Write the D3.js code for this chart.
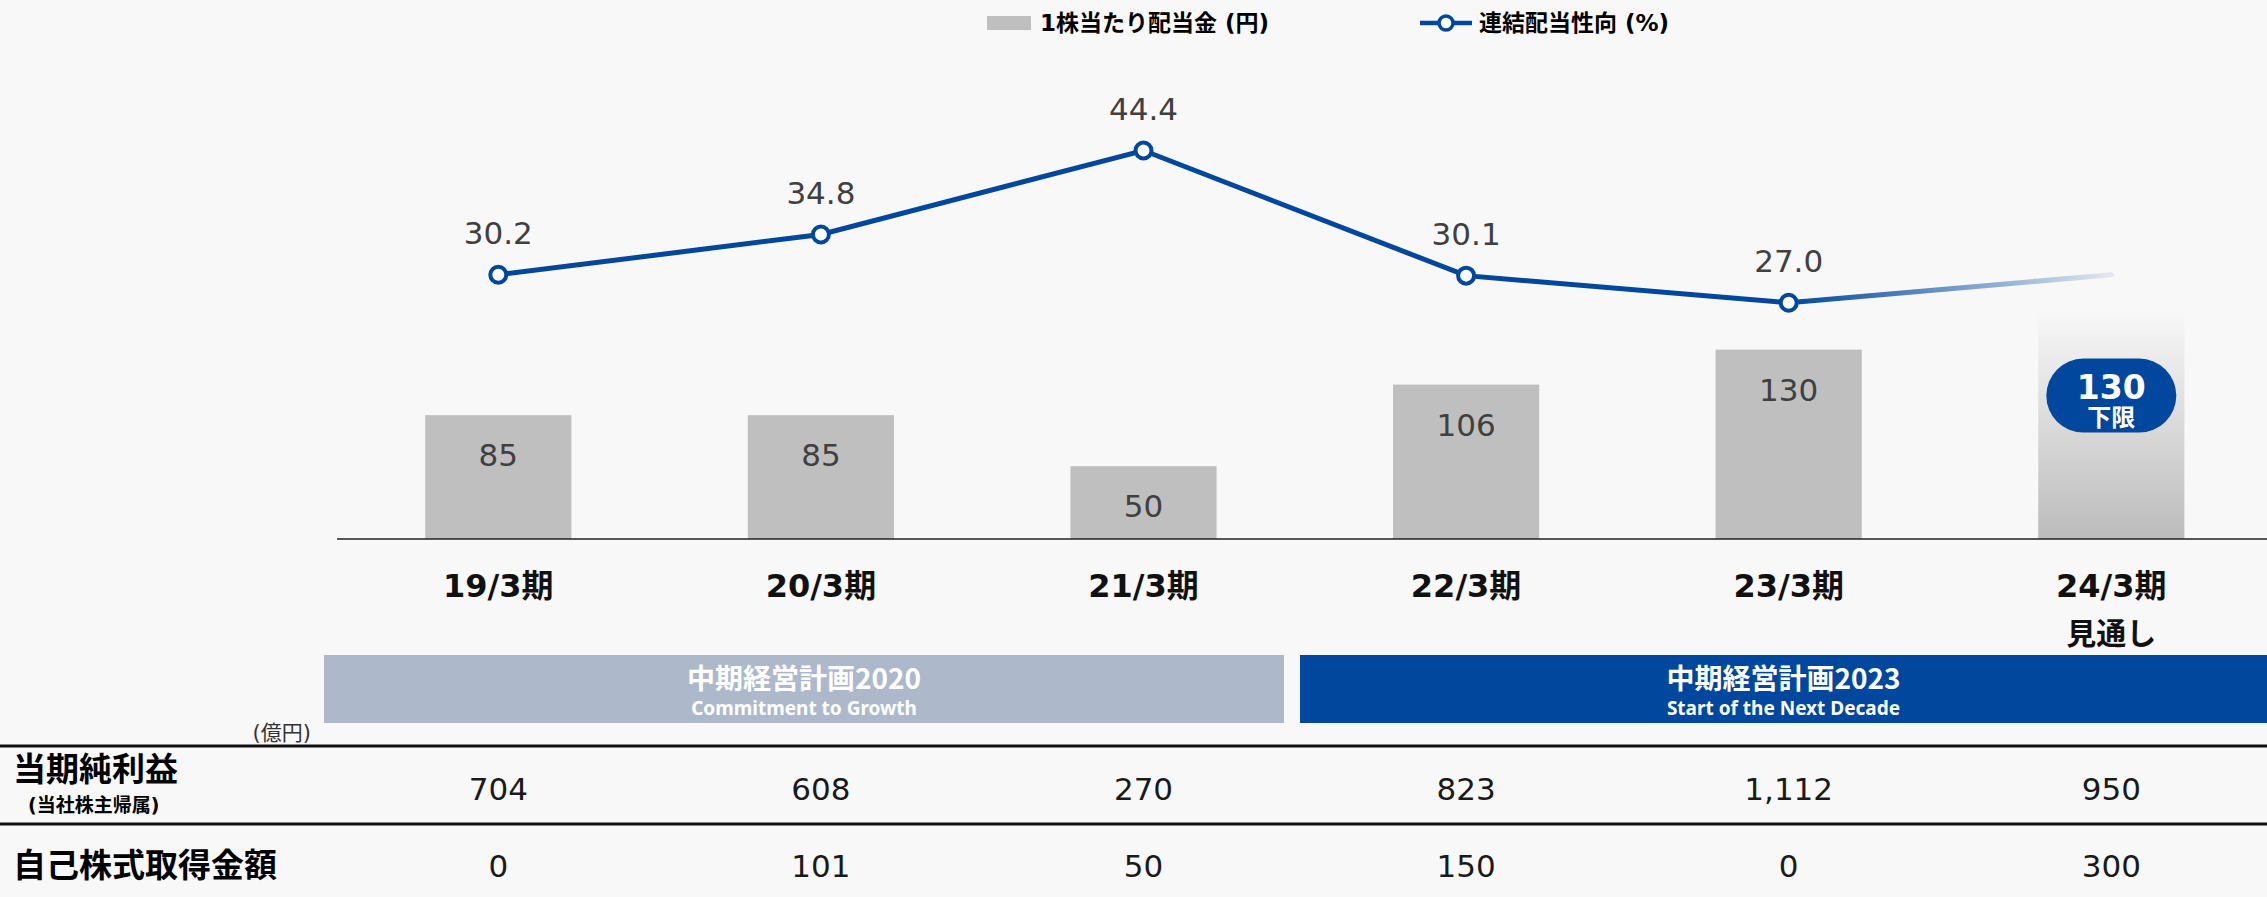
<!DOCTYPE html>
<html>
<head>
<meta charset="utf-8">
<script src="https://cdn.jsdelivr.net/npm/d3@7"></script>
<style>
  body { margin: 0; background: #f8f8f8; }
  svg { display: block; font-family: "DejaVu Sans", "Noto Sans CJK JP", sans-serif; }
</style>
</head>
<body>
<svg class="chart-svg"></svg>
<script>
// data
const periods = ["19/3期", "20/3期", "21/3期", "22/3期", "23/3期", "24/3期"];
const periodNotes = ["", "", "", "", "", "見通し"];
const dividends = [85, 85, 50, 106, 130, null];
const forecastDividend = 130; // 下限
const forecastBarTop = 157;
const payoutRatio = [30.2, 34.8, 44.4, 30.1, 27.0];
const forecastPayout = 30.2;
const netIncome = ["704", "608", "270", "823", "1,112", "950"];
const buyback = ["0", "101", "50", "150", "0", "300"];
const plans = [
  { name: "中期経営計画2020", sub: "Commitment to Growth" },
  { name: "中期経営計画2023", sub: "Start of the Next Decade" }
];

const width = 2267;
const height = 897;
const baseY = 539;
const blue = "#00479d";

const svg = d3.select(".chart-svg").attr("width", width).attr("height", height);
svg.append("rect").attr("width", width).attr("height", height).attr("fill", "#f8f8f8");

const xScale = d3
  .scaleBand()
  .domain(periods)
  .range([337, 337 + 6 * 322.6])
  .paddingInner(0.547)
  .paddingOuter(0.2735);
const cx = (p) => xScale(p) + xScale.bandwidth() / 2;
const yBar = d3.scaleLinear().domain([0, 370]).range([baseY, 0]);
const yLine = d3.scaleLinear().domain([0, 61.6]).range([baseY, 0]);

const defs = svg.append("defs");
const fadeBar = defs.append("linearGradient").attr("id", "fadeBar")
  .attr("x1", 0).attr("y1", 0).attr("x2", 0).attr("y2", 1);
fadeBar.append("stop").attr("offset", "0%").attr("stop-color", "#f8f8f8");
fadeBar.append("stop").attr("offset", "100%").attr("stop-color", "#bcbcbc");

// bars
const barGroups = svg.append("g").selectAll("g").data(periods).enter().append("g");
barGroups
  .filter((d, i) => dividends[i] != null)
  .append("rect")
  .attr("x", (d) => xScale(d))
  .attr("y", (d) => yBar(dividends[periods.indexOf(d)]))
  .attr("width", xScale.bandwidth())
  .attr("height", (d) => baseY - yBar(dividends[periods.indexOf(d)]))
  .attr("fill", "#bfbfbf");

barGroups
  .filter((d, i) => dividends[i] != null)
  .append("text")
  .attr("x", (d) => cx(d))
  .attr("y", (d) => yBar(dividends[periods.indexOf(d)]) + 51)
  .attr("text-anchor", "middle")
  .attr("fill", "#404040")
  .style("font-size", "31px")
  .text((d) => dividends[periods.indexOf(d)]);

// forecast bar (gradient) + badge
const last = periods[periods.length - 1];
svg.append("rect")
  .attr("x", xScale(last))
  .attr("y", yBar(forecastBarTop))
  .attr("width", xScale.bandwidth())
  .attr("height", baseY - yBar(forecastBarTop))
  .attr("fill", "url(#fadeBar)");

const badgeTop = yBar(forecastDividend) + 9;
svg.append("rect")
  .attr("x", cx(last) - 65)
  .attr("y", badgeTop)
  .attr("width", 130)
  .attr("height", 74)
  .attr("rx", 37)
  .attr("fill", blue);
svg.append("text")
  .attr("x", cx(last))
  .attr("y", badgeTop + 40)
  .attr("text-anchor", "middle")
  .attr("fill", "white")
  .style("font-size", "33px")
  .style("font-weight", "bold")
  .text(forecastDividend);
svg.append("text")
  .attr("x", cx(last))
  .attr("y", badgeTop + 67)
  .attr("text-anchor", "middle")
  .attr("fill", "white")
  .style("font-size", "24px")
  .style("font-weight", "bold")
  .text("下限");

// baseline
svg.append("line")
  .attr("x1", 337).attr("x2", width)
  .attr("y1", baseY).attr("y2", baseY)
  .attr("stroke", "#222").attr("stroke-width", 1.5);

// payout ratio line
const pts = payoutRatio.map((v, i) => [cx(periods[i]), yLine(v)]);
const lastPt = pts[pts.length - 1];
const endPt = [cx(last), yLine(forecastPayout)];
const fadeLine = defs.append("linearGradient").attr("id", "fadeLine")
  .attr("gradientUnits", "userSpaceOnUse")
  .attr("x1", lastPt[0]).attr("y1", lastPt[1])
  .attr("x2", endPt[0]).attr("y2", endPt[1]);
fadeLine.append("stop").attr("offset", "0%").attr("stop-color", blue);
fadeLine.append("stop").attr("offset", "100%").attr("stop-color", "#e2e8f1");
svg.append("path")
  .attr("d", d3.line()([lastPt, endPt]))
  .attr("fill", "none")
  .attr("stroke", "url(#fadeLine)")
  .attr("stroke-width", 5)
  .attr("stroke-linecap", "round");
svg.append("path")
  .attr("d", d3.line()(pts))
  .attr("fill", "none")
  .attr("stroke", blue)
  .attr("stroke-width", 5);
svg.append("g").selectAll("circle").data(pts).enter().append("circle")
  .attr("cx", (d) => d[0]).attr("cy", (d) => d[1]).attr("r", 8)
  .attr("fill", "white").attr("stroke", blue).attr("stroke-width", 4);
svg.append("g").selectAll("text").data(payoutRatio).enter().append("text")
  .attr("x", (d, i) => cx(periods[i]))
  .attr("y", (d) => yLine(d) - 31)
  .attr("text-anchor", "middle")
  .attr("fill", "#404040")
  .style("font-size", "31px")
  .text((d) => d.toFixed(1));

// category labels
svg.append("g").selectAll("text").data(periods).enter().append("text")
  .attr("x", (d) => cx(d))
  .attr("y", 597)
  .attr("text-anchor", "middle")
  .style("font-size", "32px")
  .style("font-weight", "bold")
  .attr("fill", "#111")
  .text((d) => d);
svg.append("g").selectAll("text").data(periodNotes).enter().append("text")
  .attr("x", (d, i) => cx(periods[i]))
  .attr("y", 644)
  .attr("text-anchor", "middle")
  .style("font-size", "30px")
  .style("font-weight", "bold")
  .attr("fill", "#111")
  .text((d) => d);

// plan bands
const bandEdges = [[324, 1284], [1300, width]];
const planColors = ["#adb9cb", blue];
plans.forEach((p, i) => {
  const [x0, x1] = bandEdges[i];
  svg.append("rect").attr("x", x0).attr("y", 655).attr("width", x1 - x0).attr("height", 68)
    .attr("fill", planColors[i]);
  svg.append("text").attr("x", (x0 + x1) / 2).attr("y", 689)
    .attr("text-anchor", "middle").attr("fill", "white")
    .style("font-size", "28px").style("font-weight", "bold")
    .style("font-family", "'Noto Sans CJK JP', sans-serif")
    .text(p.name);
  svg.append("text").attr("x", (x0 + x1) / 2).attr("y", 715)
    .attr("text-anchor", "middle").attr("fill", "white")
    .style("font-size", "19px").style("font-weight", "bold")
    .style("font-family", "'Noto Sans', sans-serif")
    .text(p.sub);
});

// table
svg.append("text").attr("x", 311).attr("y", 740).attr("text-anchor", "end")
  .style("font-size", "21px").attr("fill", "#333").text("(億円)");
[746, 824].forEach((y) => {
  svg.append("line").attr("x1", 0).attr("x2", width).attr("y1", y).attr("y2", y)
    .attr("stroke", "#111").attr("stroke-width", 3);
});
svg.append("text").attr("x", 13).attr("y", 781)
  .style("font-size", "33px").style("font-weight", "bold").text("当期純利益");
svg.append("text").attr("x", 28).attr("y", 812)
  .style("font-size", "19px").style("font-weight", "bold").text("(当社株主帰属)");
svg.append("text").attr("x", 13).attr("y", 877)
  .style("font-size", "33px").style("font-weight", "bold").text("自己株式取得金額");

const rows = [[netIncome, 800], [buyback, 877]];
rows.forEach(([vals, y]) => {
  svg.append("g").selectAll("text").data(vals).enter().append("text")
    .attr("x", (d, i) => cx(periods[i]))
    .attr("y", y)
    .attr("text-anchor", "middle")
    .attr("fill", "#1a1a1a")
    .style("font-size", "31px")
    .text((d) => d);
});

// legend
const legend = svg.append("g").style("font-size", "23px").style("font-weight", "bold");
legend.append("rect").attr("x", 987).attr("y", 16).attr("width", 44).attr("height", 14).attr("fill", "#bfbfbf");
legend.append("text").attr("x", 1040).attr("y", 31).text("1株当たり配当金 (円)");
legend.append("line").attr("x1", 1420).attr("x2", 1472).attr("y1", 23).attr("y2", 23)
  .attr("stroke", blue).attr("stroke-width", 4.5);
legend.append("circle").attr("cx", 1446).attr("cy", 23).attr("r", 7)
  .attr("fill", "white").attr("stroke", blue).attr("stroke-width", 3.5);
legend.append("text").attr("x", 1479).attr("y", 31).text("連結配当性向 (%)");
</script>
</body>
</html>
